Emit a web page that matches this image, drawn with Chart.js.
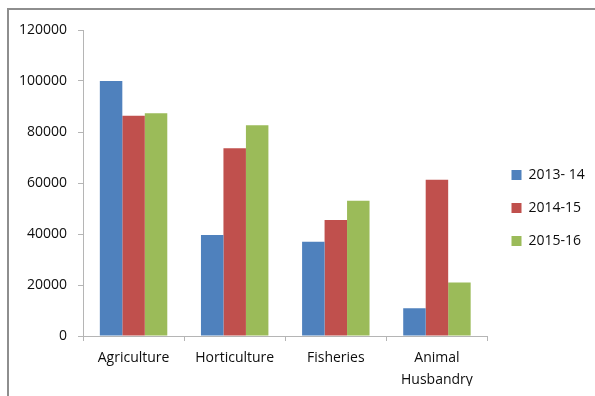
<!DOCTYPE html>
<html>
<head>
<meta charset="utf-8">
<script src="https://cdn.jsdelivr.net/npm/chart.js@4/dist/chart.umd.min.js"></script>
<style>
  html, body { margin: 0; padding: 0; background: #fff; overflow: hidden; }
  #wrap { position: relative; width: 595px; height: 396px; }
  #frame {
    position: absolute; left: 7px; top: 8px; width: 620px; height: 420px;
    border-top: 2px solid #8e8e8e; border-left: 2px solid #8e8e8e;
    box-sizing: border-box; pointer-events: none;
  }
  canvas { position: absolute; left: 0; top: 0; }
</style>
</head>
<body>
<div id="wrap">
  <canvas id="chart" width="595" height="396"></canvas>
  <div id="frame"></div>
</div>
<script>
// Sectors and yearly figures
const categories = ['Agriculture', 'Horticulture', 'Fisheries', ['Animal', 'Husbandry']];
const seriesNames = ['2013- 14', '2014-15', '2015-16'];
const values2013 = [100000, 39600, 37000, 10900];
const values2014 = [86400, 73600, 45500, 61300];
const values2015 = [87400, 82600, 53000, 21000];
const yTicks = [0, 20000, 40000, 60000, 80000, 100000, 120000];

const colors = ['#4F81BD', '#C0504D', '#9BBB59'];
const font = { family: '"Open Sans", "Liberation Sans", sans-serif', size: 14 };
const textColor = '#0d0d0d';
const axisColor = '#b5b5b5';

const datasets = [values2013, values2014, values2015].map((vals, i) => ({
  label: seriesNames[i],
  data: vals,
  backgroundColor: colors[i],
  borderWidth: 0,
  categoryPercentage: 0.667,
  barPercentage: 1.0
}));

new Chart(document.getElementById('chart'), {
  type: 'bar',
  data: { labels: categories, datasets },
  options: {
    responsive: false,
    animation: false,
    devicePixelRatio: 1,
    layout: { padding: { top: 30, left: 0, right: 4, bottom: 10 } },
    plugins: {
      tooltip: { enabled: false },
      legend: {
        position: 'right',
        labels: {
          boxWidth: 10, boxHeight: 10, padding: 19,
          color: textColor, font
        }
      }
    },
    scales: {
      x: {
        grid: { display: true, drawOnChartArea: false, drawTicks: true, tickLength: 5, offset: true, color: axisColor },
        border: { display: true, color: axisColor, width: 1 },
        ticks: { color: textColor, font: { ...font, lineHeight: 1.57 }, padding: 6, maxRotation: 0, autoSkip: false },
        afterFit: s => { s.height = 50; }
      },
      y: {
        min: 0, max: 120000,
        afterBuildTicks: s => { s.ticks = yTicks.map(v => ({ value: v })); },
        grid: { display: true, drawOnChartArea: false, drawTicks: true, tickLength: 5, color: axisColor },
        border: { display: true, color: axisColor, width: 1 },
        ticks: { color: textColor, font, padding: 11, callback: v => String(v) },
        afterFit: s => { s.width = 83; }
      },
      gap: {
        position: 'right', type: 'linear', display: true,
        grid: { display: false }, border: { display: false },
        ticks: { display: false },
        afterFit: s => { s.width = 5; }
      }
    }
  }
});
</script>
</body>
</html>
